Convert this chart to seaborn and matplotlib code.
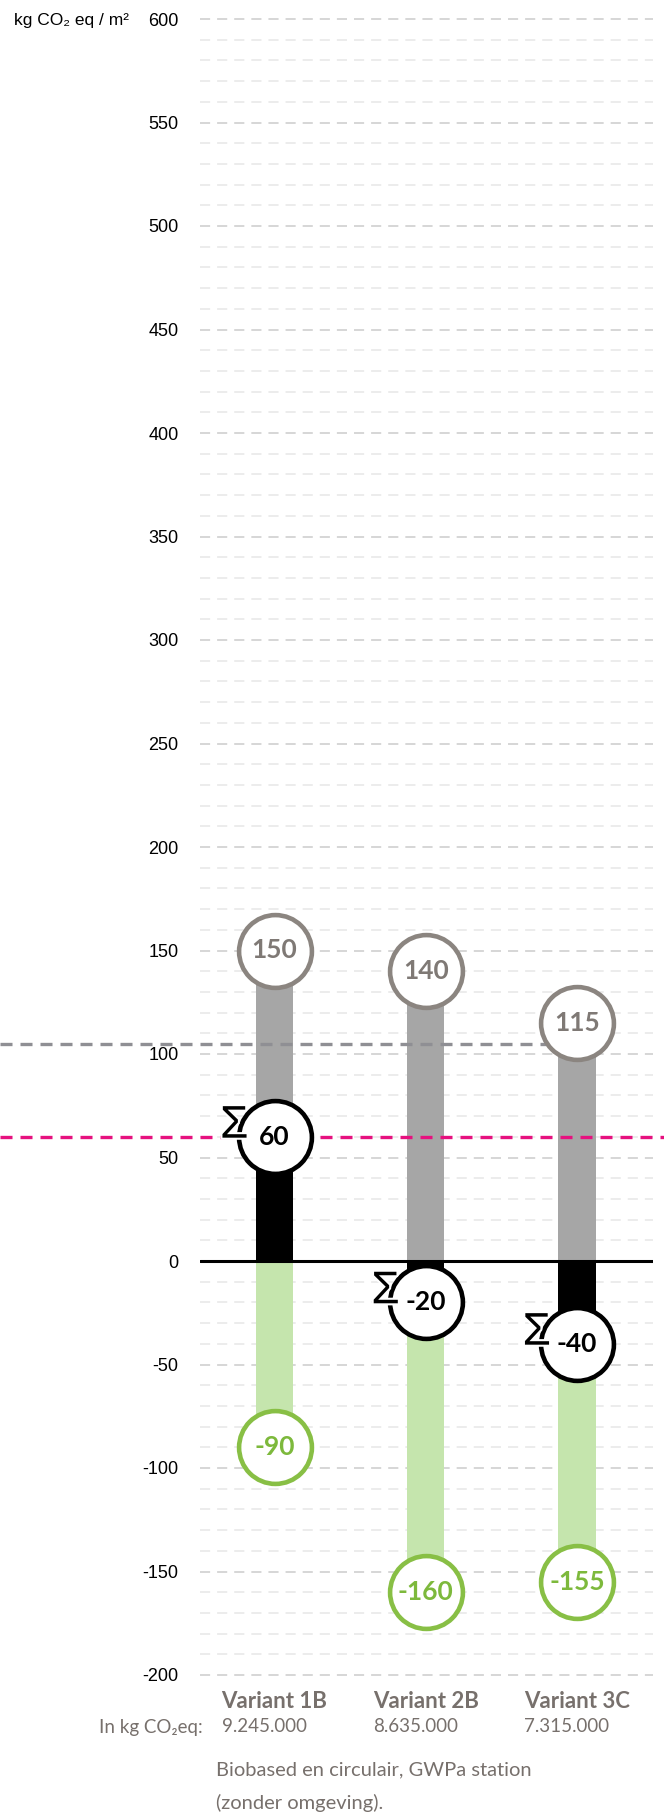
import matplotlib
matplotlib.use("Agg")
import matplotlib.pyplot as plt
import seaborn as sns
import matplotlib.patheffects as pe
from matplotlib import font_manager
from matplotlib.ticker import MultipleLocator
from matplotlib.transforms import blended_transform_factory

# ---------------- data ----------------
variants = ["Variant 1B", "Variant 2B", "Variant 3C"]
emissions = [150, 140, 115]          # grey (positive) part
sequestration = [-90, -160, -155]    # green (negative) part
net_total = [60, -20, -40]           # Σ (net) value
totals_kg = ["9.245.000", "8.635.000", "7.315.000"]
ref_grey_value = 105
ref_pink_value = 60
y_ticks = list(range(-200, 601, 50))
y_label = "kg CO₂ eq / m²"
row_label = "In kg CO₂eq:"
caption_lines = ["Biobased en circulair, GWPa station", "(zonder omgeving)."]

# ---------------- style ----------------
GREY_BAR = "#a6a6a6"
GREY_RING = "#8b8580"
GREY_TXT = "#7f7975"
GREEN_BAR = "#c5e5ad"
GREEN_RING = "#88bf45"
GREEN_TXT = "#7db93c"
BLACK = "#000000"
PINK = "#e6117f"
REF_GREY = "#8f8f94"
LABEL_GREY = "#77706c"

sns.set_theme(style="white")
plt.rcParams["axes.unicode_minus"] = False
names = {f.name for f in font_manager.fontManager.ttflist}
NARROW = "Liberation Sans Narrow" if "Liberation Sans Narrow" in names else "Liberation Sans"
plt.rcParams["font.family"] = ["Lato", "DejaVu Sans"]

W, H = 664, 1820
fig = plt.figure(figsize=(W / 100, H / 100), dpi=100)
ax_left, ax_right = 200, 653
px_per_unit = 2.07
ylo, yhi = -202, 602
top_px = 1261 - yhi * px_per_unit
bot_px = 1261 - ylo * px_per_unit
ax = fig.add_axes([ax_left / W, 1 - bot_px / H, (ax_right - ax_left) / W, (bot_px - top_px) / H])

BAR_W = 0.245
common = dict(width=BAR_W, saturation=1, errorbar=None, linewidth=0, ax=ax, zorder=2)
sns.barplot(x=variants, y=sequestration, color=GREEN_BAR, **common)
sns.barplot(x=variants, y=emissions, color=GREY_BAR, **common)
sns.barplot(x=variants, y=net_total, color=BLACK, **common)

pos = list(range(len(variants)))
spacing = 151.25
x0 = -(274.5 - ax_left) / spacing
x1 = (ax_right - 274.5) / spacing
ax.set_xlim(x0, x1)
ax.set_ylim(ylo, yhi)

# grid
ax.set_yticks(y_ticks)
ax.yaxis.set_minor_locator(MultipleLocator(10))
ax.grid(False)
ax.grid(which="major", axis="y", color="#d6d6d6", lw=1.4, linestyle=(0, (5.2, 3.6)), zorder=0)
ax.grid(which="minor", axis="y", color="#ececec", lw=1.4, linestyle=(0, (5.2, 3.6)), zorder=0)
ax.set_axisbelow(True)
for s in ax.spines.values():
    s.set_visible(False)
ax.tick_params(axis="y", which="both", length=0, pad=15.5, labelsize=13, labelcolor="black")
ax.tick_params(axis="x", which="both", length=0, labelbottom=False)
for lab in ax.get_yticklabels():
    lab.set_fontfamily([NARROW, "DejaVu Sans"])
ax.set_xlabel("")
ax.set_ylabel("")

# zero line
ax.axhline(0, color=BLACK, lw=2.2, zorder=3)

# reference lines (extend beyond the axes to the figure's left edge)
fx0 = -ax_left / (ax_right - ax_left)
ax.axhline(ref_grey_value, xmin=fx0, xmax=(577 - ax_left) / (ax_right - ax_left),
           color=REF_GREY, lw=2.4, linestyle=(0, (3.6, 2.4)), clip_on=False, zorder=4)
ax.axhline(ref_pink_value, xmin=fx0, xmax=(W - ax_left) / (ax_right - ax_left),
           color=PINK, lw=2.4, linestyle=(0, (3.6, 2.4)), clip_on=False, zorder=4)

# circles
S = 2750
RING = 3.3
ax.scatter(pos, emissions, s=S, facecolor="white", edgecolor=GREY_RING, linewidths=RING, zorder=6)
ax.scatter(pos, sequestration, s=S, facecolor="white", edgecolor=GREEN_RING, linewidths=RING, zorder=6)
ax.scatter(pos, net_total, s=S, facecolor="white", edgecolor=BLACK, linewidths=RING, zorder=7)

num_kw = dict(ha="center", va="center", fontsize=19, fontweight="bold", zorder=9)
for i in pos:
    ax.text(i, emissions[i], f"{emissions[i]}", color=GREY_TXT, **num_kw)
    ax.text(i, sequestration[i], f"{sequestration[i]}", color=GREEN_TXT, **num_kw)
    ax.text(i, net_total[i], f"{net_total[i]}", color=BLACK, **num_kw)
    ax.annotate("Σ", xy=(i, net_total[i]), xytext=(-29, 8), textcoords="offset points",
                ha="center", va="center", fontsize=33, color=BLACK,
                family=[NARROW, "DejaVu Sans"], zorder=10,
                path_effects=[pe.withStroke(linewidth=3, foreground="white")])

# y label
fig.text(14 / W, 1 - 20 / H, y_label, ha="left", va="center", fontsize=12.5,
         family=[NARROW, "DejaVu Sans"], color="black")

# bottom labels
tr = blended_transform_factory(ax.transData, fig.transFigure)
for i in pos:
    ax.text(i, 1 - 1702 / H, variants[i], transform=tr, ha="center", va="center",
            fontsize=16, fontweight="bold", color=LABEL_GREY)
    ax.text(i - 10 / spacing, 1 - 1727 / H, totals_kg[i], transform=tr, ha="center", va="center",
            fontsize=13.5, color=LABEL_GREY)
fig.text(203 / W, 1 - 1727 / H, row_label, ha="right", va="center", fontsize=13.5, color=LABEL_GREY,
         family=["Lato", "DejaVu Sans"])
fig.text(216 / W, 1 - 1770 / H, caption_lines[0], ha="left", va="center", fontsize=14.5, color=LABEL_GREY)
fig.text(216 / W, 1 - 1803 / H, caption_lines[1], ha="left", va="center", fontsize=14.5, color=LABEL_GREY)

fig.savefig("out.png", dpi=100)
